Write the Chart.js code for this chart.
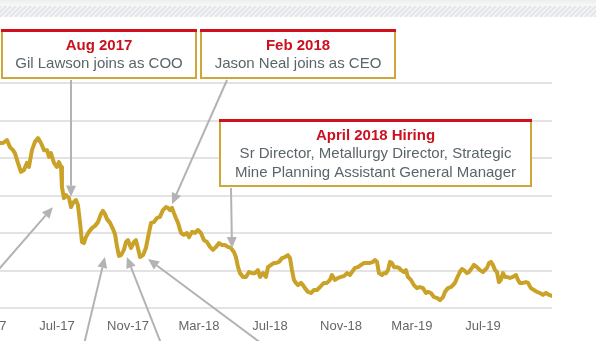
<!DOCTYPE html>
<html>
<head>
<meta charset="utf-8">
<script src="https://cdn.jsdelivr.net/npm/chart.js@4/dist/chart.umd.min.js"></script>
<style>
  html, body { margin: 0; padding: 0; background: #fff; overflow: hidden; }
  #wrap { position: relative; width: 596px; height: 341px; overflow: hidden; }
  /* the chart is a crop: its left part falls outside the window */
  #chart { position: absolute; left: -40px; top: 0; }
</style>
</head>
<body>
<div id="wrap"><canvas id="chart" width="636" height="341"></canvas></div>
<script>
// x = months since Jan 2017 (0 = Jan-17), y = share price (grid units)
const months = [2.62, 2.79, 2.96, 3.18, 3.35, 3.52, 3.63, 3.80, 3.97, 4.14, 4.31, 4.42, 4.59, 4.76, 4.93,
  5.10, 5.27, 5.44, 5.55, 5.66, 5.83, 6.00, 6.11, 6.23, 6.28, 6.39, 6.51, 6.68, 6.79, 6.90, 7.07, 7.18,
  7.30, 7.41, 7.52, 7.63, 7.80, 7.97, 8.14, 8.31, 8.48, 8.59, 8.70, 8.82, 8.99, 9.15, 9.27, 9.38, 9.49,
  9.61, 9.77, 9.89, 10.00, 10.17, 10.34, 10.45, 10.56, 10.68, 10.85, 11.01, 11.18, 11.30, 11.46, 11.63,
  11.80, 11.97, 12.14, 12.25, 12.37, 12.48, 12.59, 12.70, 12.82, 12.99, 13.15, 13.32, 13.44, 13.61, 13.77,
  13.94, 14.11, 14.28, 14.45, 14.62, 14.79, 14.96, 15.13, 15.30, 15.46, 15.63, 15.80, 15.97, 16.08, 16.20,
  16.31, 16.48, 16.65, 16.82, 16.99, 17.15, 17.32, 17.44, 17.61, 17.77, 17.89, 18.06, 18.23, 18.34, 18.51,
  18.68, 18.85, 19.01, 19.13, 19.24, 19.35, 19.46, 19.58, 19.75, 19.86, 19.97, 20.14, 20.31, 20.48, 20.65,
  20.82, 21.04, 21.21, 21.38, 21.49, 21.66, 21.83, 22.00, 22.17, 22.34, 22.51, 22.62, 22.79, 22.96, 23.13,
  23.30, 23.46, 23.63, 23.80, 23.92, 24.03, 24.14, 24.31, 24.42, 24.54, 24.65, 24.76, 24.87, 24.99, 25.15,
  25.27, 25.38, 25.55, 25.66, 25.77, 25.94, 26.11, 26.28, 26.45, 26.62, 26.79, 26.90, 27.07, 27.24, 27.41,
  27.58, 27.75, 27.86, 28.03, 28.20, 28.31, 28.42, 28.54, 28.70, 28.82, 28.93, 29.10, 29.21, 29.38, 29.49,
  29.66, 29.83, 30.00, 30.23, 30.34, 30.45, 30.56, 30.68, 30.79, 30.90, 31.01, 31.13, 31.24, 31.35, 31.52,
  31.69, 31.86, 31.97, 32.08, 32.25, 32.42, 32.54, 32.70, 32.87, 33.04, 33.21, 33.38, 33.55, 33.72, 33.89];
const prices = [4.35, 4.40, 4.40, 4.48, 4.29, 4.21, 4.13, 3.87, 3.63, 3.68, 3.87, 3.76, 4.21, 4.43, 4.53,
  4.40, 4.21, 4.21, 4.03, 4.13, 3.87, 3.76, 3.89, 3.76, 3.23, 2.93, 3.01, 2.93, 2.69, 2.80, 2.88, 2.75,
  2.27, 1.76, 1.73, 1.89, 2.03, 2.13, 2.19, 2.29, 2.51, 2.59, 2.51, 2.37, 2.27, 2.11, 1.97, 1.65, 1.39,
  1.41, 1.55, 1.76, 1.81, 1.60, 1.76, 1.81, 1.60, 1.36, 1.41, 1.60, 2.00, 2.27, 2.29, 2.40,
  2.43, 2.61, 2.69, 2.67, 2.61, 2.67, 2.53, 2.40, 2.27, 2.00, 1.95, 2.00, 1.89, 2.03, 2.00,
  2.08, 2.00, 1.81, 1.76, 1.63, 1.55, 1.63, 1.73, 1.68, 1.68, 1.63, 1.60, 1.49, 1.36, 1.09,
  0.93, 0.83, 0.83, 0.96, 0.93, 0.93, 1.01, 0.83, 0.93, 0.83, 1.09, 1.15, 1.20, 1.20, 1.23,
  1.33, 1.36, 1.41, 1.33, 1.01, 0.75, 0.67, 0.61, 0.67, 0.61, 0.53, 0.43, 0.40, 0.48, 0.48,
  0.56, 0.67, 0.67, 0.75, 0.88, 0.75, 0.80, 0.83, 0.85, 0.93, 0.88, 0.96, 1.07, 1.09, 1.15,
  1.20, 1.20, 1.20, 1.23, 1.28, 1.23, 0.93, 0.88, 0.93, 0.93, 1.01, 1.23, 1.20, 1.09, 1.09,
  1.07, 1.01, 0.96, 1.01, 0.83, 0.75, 0.61, 0.53, 0.56, 0.53, 0.40, 0.43, 0.40, 0.29, 0.27,
  0.21, 0.29, 0.43, 0.53, 0.56, 0.61, 0.67, 0.80, 0.96, 1.04, 1.01, 0.93, 0.96, 1.07, 1.15,
  1.09, 1.01, 0.96, 1.07, 1.20, 1.23, 1.15, 1.01, 0.96, 0.69, 0.75, 0.93, 0.83, 0.83, 0.80,
  0.83, 0.88, 0.75, 0.67, 0.67, 0.69, 0.67, 0.53, 0.48, 0.43, 0.40, 0.35, 0.40, 0.35, 0.32];

const tickMonths = [2, 6, 10, 14, 18, 22, 26, 30];
const tickLabels = ['Mar-17', 'Jul-17', 'Nov-17', 'Mar-18', 'Jul-18', 'Nov-18', 'Mar-19', 'Jul-19'];

// callout texts
const noteTitles = ['Aug 2017', 'Feb 2018', 'April 2018 Hiring'];
const noteLines = [
  ['Gil Lawson joins as COO'],
  ['Jason Neal joins as CEO'],
  ['Sr Director, Metallurgy Director, Strategic', 'Mine Planning Assistant General Manager']
];
// arrow targets on the price line (month, price)
const arrowMonths = [6.79, 12.48, 15.86, 5.77, 8.70, 9.94, 11.13];
const arrowPrices = [2.97, 2.77, 1.60, 2.69, 1.36, 1.36, 1.31];

// ---- layout (window pixels) ----
const OFF = 40;
const FONT = '"Liberation Sans", Arial, sans-serif';
const boxes = [
  { x: 1, y: 30, w: 196, h: 49 },
  { x: 200, y: 30, w: 196, h: 49 },
  { x: 219, y: 120, w: 313, h: 67 }
];
const arrowTails = [[71, 80], [227, 80], [231, 188], [-20, 291], [80, 361], [168, 361], [285, 361]];

function drawArrow(ctx, x0, y0, x1, y1) {
  const ang = Math.atan2(y1 - y0, x1 - x0);
  const len = 11, half = 5;
  const bx = x1 - Math.cos(ang) * len, by = y1 - Math.sin(ang) * len;
  ctx.strokeStyle = '#b3b3b3';
  ctx.lineWidth = 2;
  ctx.beginPath();
  ctx.moveTo(x0, y0);
  ctx.lineTo(bx, by);
  ctx.stroke();
  ctx.fillStyle = '#b3b3b3';
  ctx.beginPath();
  ctx.moveTo(x1, y1);
  ctx.lineTo(bx + Math.sin(ang) * half, by - Math.cos(ang) * half);
  ctx.lineTo(bx - Math.sin(ang) * half, by + Math.cos(ang) * half);
  ctx.closePath();
  ctx.fill();
}

const callouts = {
  id: 'callouts',
  beforeDraw(chart) {
    const ctx = chart.ctx;
    ctx.save();
    ctx.translate(OFF, 0);
    // grey strip and hatched band at the top
    const g = ctx.createLinearGradient(0, 0, 0, 6);
    g.addColorStop(0, '#eceeee');
    g.addColorStop(1, '#f8f8f8');
    ctx.fillStyle = g;
    ctx.fillRect(0, 0, 596, 6);
    ctx.fillStyle = '#f5f6f6';
    ctx.fillRect(0, 6, 596, 11);
    ctx.beginPath();
    ctx.rect(0, 6, 596, 11);
    ctx.clip();
    ctx.strokeStyle = '#e2e6e8';
    ctx.lineWidth = 2;
    for (let x = -20; x < 620; x += 5) {
      ctx.beginPath();
      ctx.moveTo(x, 17);
      ctx.lineTo(x + 11, 6);
      ctx.stroke();
    }
    ctx.restore();
  },
  afterDatasetsDraw(chart) {
    const { ctx, scales: { x, y } } = chart;
    ctx.save();
    ctx.translate(OFF, 0);

    arrowTails.forEach((t, i) => {
      const tx = x.getPixelForValue(arrowMonths[i]) - OFF;
      const ty = y.getPixelForValue(arrowPrices[i]);
      drawArrow(ctx, t[0], t[1], tx, ty);
    });

    boxes.forEach((b, i) => {
      ctx.fillStyle = '#fff';
      ctx.fillRect(b.x, b.y, b.w, b.h);
      ctx.strokeStyle = '#cfa63a';
      ctx.lineWidth = 2;
      ctx.strokeRect(b.x + 1, b.y + 1, b.w - 2, b.h - 2);
      ctx.fillStyle = '#d0101c';
      ctx.fillRect(b.x, b.y - 1, b.w, 3);

      const cx = b.x + b.w / 2;
      ctx.textAlign = 'center';
      ctx.textBaseline = 'middle';
      ctx.fillStyle = '#cc111e';
      ctx.font = 'bold 15px ' + FONT;
      ctx.fillText(noteTitles[i], cx, b.y + 16);
      ctx.fillStyle = '#5b6569';
      ctx.font = '15px ' + FONT;
      noteLines[i].forEach((s, j) => ctx.fillText(s, cx, b.y + 34 + j * 19));
    });
    ctx.restore();
  }
};

new Chart(document.getElementById('chart'), {
  type: 'line',
  data: {
    datasets: [{
      data: months.map((m, i) => ({ x: m, y: prices[i] })),
      borderColor: '#c9a227',
      borderWidth: 4,
      pointRadius: 0,
      tension: 0,
      borderJoinStyle: 'round',
      borderCapStyle: 'round'
    }]
  },
  options: {
    responsive: false,
    animation: false,
    devicePixelRatio: 1,
    layout: { padding: { left: 10, right: 44, top: 83, bottom: 0 } },
    plugins: { legend: { display: false }, tooltip: { enabled: false } },
    scales: {
      x: {
        type: 'linear',
        min: 1.1,
        max: 33.89,
        afterBuildTicks: s => { s.ticks = tickMonths.map(v => ({ value: v })); },
        afterFit: s => { s.height = 33; s.paddingLeft = 0; s.paddingRight = 0; },
        grid: { display: false, drawTicks: false },
        border: { display: false },
        ticks: {
          padding: 11,
          color: '#666',
          font: { size: 13, family: FONT },
          maxRotation: 0,
          autoSkip: false,
          callback: v => tickLabels[tickMonths.indexOf(v)]
        }
      },
      y: {
        min: 0,
        max: 6,
        afterFit: s => { s.width = 0; },
        ticks: { display: false, stepSize: 1 },
        grid: { color: '#e3e3e3', lineWidth: 2, drawTicks: false },
        border: { display: false }
      }
    }
  },
  plugins: [callouts]
});
</script>
</body>
</html>
